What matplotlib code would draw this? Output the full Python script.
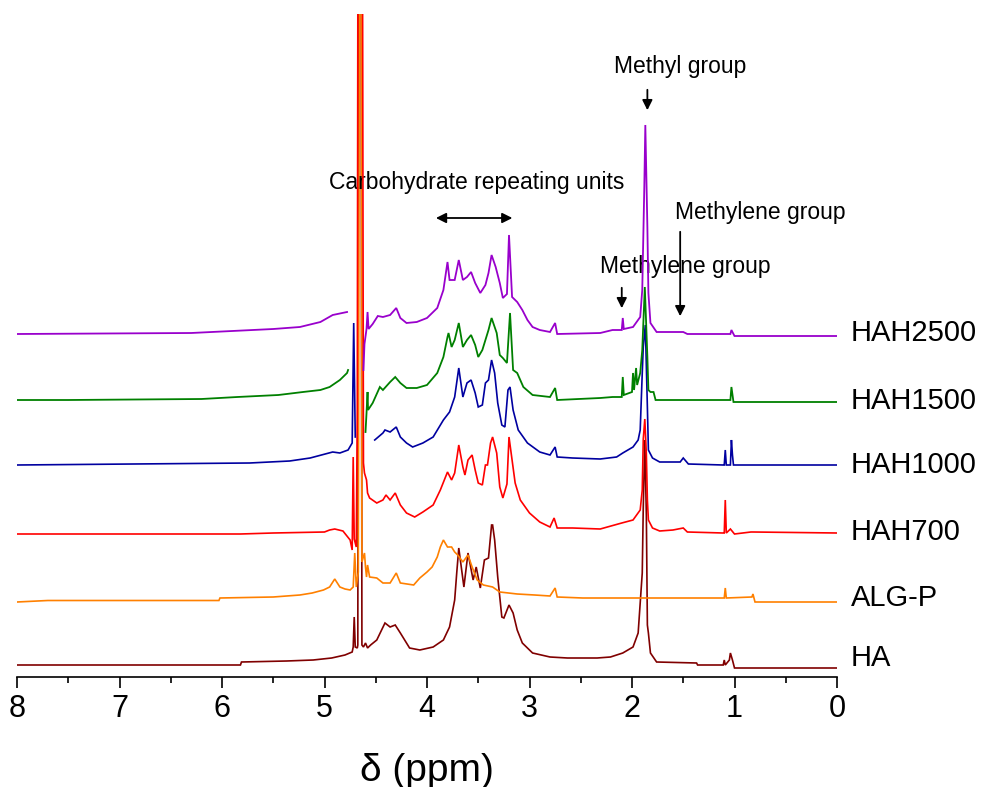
import numpy as np
import matplotlib
matplotlib.use("Agg")
import matplotlib.pyplot as plt

plt.rcParams['font.family'] = ['Liberation Sans', 'DejaVu Sans']

nan = np.nan

# ---------------- data (ppm, intensity a.u. above each trace baseline) ----------------
HA_ppm = [8.0, 5.82, 5.81, 5.37, 5.11, 4.93, 4.80, 4.73, 4.72, 4.71, 4.70, 4.68, 4.675, 4.665, 4.645, 4.635,
          4.62, 4.60, 4.58, 4.55, 4.49, 4.41, 4.36, 4.31, 4.26, 4.17, 4.07, 3.94, 3.84, 3.78, 3.73, 3.71,
          3.69, 3.64, 3.60, 3.55, 3.52, 3.48, 3.44, 3.40, 3.37, 3.36, 3.34, 3.31, 3.27, 3.25, 3.20, 3.16,
          3.12, 3.07, 2.97, 2.80, 2.63, 2.34, 2.21, 2.09, 1.99, 1.94, 1.90, 1.89, 1.875, 1.86, 1.85, 1.84,
          1.82, 1.76, 1.37, 1.36, 1.11, 1.10, 1.09, 1.05, 1.04, 1.02, 1.00, 0.0]
HA_int = [0, 0, 3, 4, 5, 7, 10, 13, 18, 48, 18, 17, 20, 900, 900, 20,
          18, 22, 17, 20, 25, 42, 38, 40, 32, 17, 15, 18, 25, 38, 65, 92,
          117, 78, 112, 85, 98, 77, 105, 107, 140, 140, 125, 88, 48, 47, 60, 52,
          35, 22, 12, 8, 7, 7, 8, 12, 18, 32, 92, 158, 225, 150, 40, 32,
          12, 3, 2, 0, 0, 5, 0, 5, 12, 5, -3, -3]

ALG_ppm = [8.0, 7.7, 6.03, 6.02, 5.50, 5.24, 5.12, 5.01, 4.95, 4.90, 4.85, 4.80, 4.75, 4.72, 4.705, 4.69,
           4.67, 4.655, 4.645, 4.635, 4.61, 4.60, 4.59, 4.58, 4.56, 4.49, 4.43, 4.36, 4.30, 4.26, 4.13,
           4.07, 4.00, 3.95, 3.90, 3.87, 3.84, 3.80, 3.76, 3.73, 3.70, 3.65, 3.60, 3.56, 3.51, 3.45, 3.36,
           3.29, 3.12, 2.95, 2.80, 2.75, 2.73, 2.48, 1.10, 1.09, 1.08, 0.83, 0.82, 0.80, 0.0]
ALG_int = [0, 1.5, 1.5, 4, 5, 7, 9, 12, 15, 23, 15, 13, 12, 15, 49, 15,
           30, 900, 900, 40, 49, 35, 25, 37, 25, 24, 19, 19, 29, 19, 17,
           24, 30, 35, 45, 55, 62, 55, 55, 50, 47, 40, 47, 35, 22, 17, 15,
           10, 8, 7, 6, 14, 5, 4, 4, 14, 4, 5, 8, 0, 0]

H700_ppm = [8.0, 5.82, 5.50, 5.00, 4.95, 4.90, 4.82, 4.75, 4.73, 4.72, 4.71, 4.69, 4.68, 4.67, 4.635,
            4.62, 4.61, 4.59, 4.58, 4.56, 4.49, 4.43, 4.40, 4.36, 4.31, 4.26, 4.20, 4.12, 4.04, 3.94,
            3.87, 3.80, 3.76, 3.73, 3.69, 3.65, 3.63, 3.60, 3.56, 3.53, 3.50, 3.46, 3.43, 3.41, 3.38,
            3.36, 3.32, 3.29, 3.26, 3.22, 3.20, 3.17, 3.14, 3.09, 3.00, 2.90, 2.80, 2.76, 2.73, 2.58,
            2.31, 2.10, 1.99, 1.92, 1.90, 1.89, 1.875, 1.86, 1.85, 1.84, 1.80, 1.73, 1.60, 1.50, 1.46,
            1.11, 1.10, 1.09, 1.08, 1.04, 1.00, 0.84, 0.82, 0.0]
H700_int = [0, 0, 1, 2, 4, 5, 3, -6, -16, 77, -5, -13, 127, 900, 900,
            71, 61, 54, 41, 36, 31, 34, 39, 34, 41, 29, 21, 17, 22, 29,
            44, 62, 54, 61, 89, 67, 59, 74, 79, 64, 51, 49, 69, 69, 91,
            97, 81, 47, 36, 50, 97, 74, 51, 34, 21, 12, 7, 16, 6, 6,
            5, 11, 14, 24, 44, 95, 115, 80, 34, 14, 6, 3, 4, 6, 2,
            1, 1, 34, 1, 5, 0, 2, 2, 1]

H1000_ppm = [8.0, 5.73, 5.34, 5.14, 4.92, 4.85, 4.77, 4.73, 4.715, 4.70, nan,
             4.51, 4.43, 4.41, 4.36, 4.30, 4.26, 4.20, 4.14, 4.04, 3.94, 3.84, 3.78, 3.73, 3.69, 3.65,
             3.61, 3.57, 3.53, 3.50, 3.46, 3.43, 3.40, 3.37, 3.34, 3.31, 3.27, 3.24, 3.21, 3.19, 3.16,
             3.11, 3.02, 2.90, 2.80, 2.75, 2.73, 2.58, 2.31, 2.15, 2.09, 1.99, 1.94, 1.92, 1.90, 1.89,
             1.87, 1.85, 1.84, 1.80, 1.73, 1.53, 1.50, 1.45, 1.11, 1.10, 1.09, 1.08, 1.04, 1.03, 1.02,
             1.01, 0.0]
H1000_int = [0, 2, 4, 7, 13, 12, 15, 22, 142, 28, nan,
             25, 32, 35, 33, 38, 28, 22, 18, 22, 28, 45, 53, 68, 97, 68,
             82, 85, 72, 58, 60, 82, 85, 105, 92, 62, 40, 38, 75, 78, 55,
             35, 22, 13, 10, 18, 8, 7, 6, 8, 12, 18, 25, 35, 92, 118,
             140, 58, 15, 7, 3, 3, 7, 1, 0, 0, 15, 0, 0, 25, 10,
             0, 0]

H1500_ppm = [8.0, 7.5, 6.2, 5.85, 5.45, 5.21, 5.04, 4.95, 4.85, 4.78, 4.77, nan,
             4.60, 4.59, 4.58, 4.575, 4.53, 4.46, 4.43, 4.36, 4.31, 4.26, 4.20, 4.10, 4.00, 3.90, 3.84,
             3.80, 3.79, 3.76, 3.73, 3.69, 3.65, 3.61, 3.57, 3.53, 3.50, 3.46, 3.43, 3.40, 3.37, 3.32,
             3.29, 3.26, 3.22, 3.19, 3.16, 3.12, 3.06, 2.97, 2.80, 2.75, 2.73, 2.31, 2.19, 2.10, 2.09,
             2.08, 2.00, 1.99, 1.98, 1.96, 1.95, 1.92, 1.90, 1.875, 1.85, 1.84, 1.82, 1.79, 1.77, 1.50,
             1.04, 1.03, 1.01, 0.0]
H1500_int = [0, 0, 1, 3, 5, 8, 10, 13, 20, 27, 30, nan,
             -32, -13, 8, -10, -3, 13, 10, 18, 23, 17, 12, 12, 15, 27, 43,
             63, 67, 53, 60, 77, 53, 60, 65, 55, 43, 50, 60, 70, 82, 67,
             45, 42, 37, 87, 30, 27, 13, 5, 3, 12, 0, 2, 3, 3, 23,
             5, 8, 27, 10, 32, 15, 27, 50, 113, 43, 10, 8, 8, 0, 0,
             0, 13, -2, -2]

H2500_ppm = [8.0, 6.3, 5.9, 5.5, 5.24, 5.04, 4.92, 4.78, nan,
             4.62, 4.61, 4.59, 4.58, 4.57, 4.53, 4.48, 4.43, 4.36, 4.30, 4.26, 4.20, 4.10, 4.00, 3.90,
             3.84, 3.80, 3.78, 3.73, 3.69, 3.65, 3.61, 3.57, 3.53, 3.48, 3.43, 3.40, 3.37, 3.33, 3.29,
             3.26, 3.22, 3.20, 3.17, 3.12, 3.07, 3.02, 2.97, 2.90, 2.80, 2.75, 2.73, 2.31, 2.19, 2.10,
             2.09, 2.08, 1.99, 1.92, 1.90, 1.88, 1.87, 1.85, 1.84, 1.82, 1.76, 1.50, 1.46, 1.04, 1.03,
             1.00, 0.0]
H2500_int = [0, 1, 3, 5, 7, 12, 19, 22, nan,
             -36, -10, 5, 22, 5, 10, 18, 17, 19, 26, 16, 11, 12, 16, 26,
             44, 72, 54, 54, 74, 54, 57, 62, 51, 41, 49, 61, 79, 67, 51,
             36, 40, 99, 37, 32, 24, 14, 7, 4, 2, 11, 0, 1, 4, 4,
             16, 5, 7, 17, 44, 147, 209, 107, 41, 11, 2, 2, 0, 0, 4,
             -2, -2]

names = ["HA", "ALG-P", "HAH700", "HAH1000", "HAH1500", "HAH2500"]
ppms = [HA_ppm, ALG_ppm, H700_ppm, H1000_ppm, H1500_ppm, H2500_ppm]
ints = [HA_int, ALG_int, H700_int, H1000_int, H1500_int, H2500_int]

# ---------------- layout / style ----------------
offsets = [12, 75, 143, 212, 277, 343]
label_y = [19, 79, 145, 212, 276, 344]
colors = ["#800000", "#FF8000", "#FF0000", "#0000A0", "#008000", "#9900CC"]
zorders = [2, 3, 4, 5, 6, 7]
widths = [1.2, 1.2, 1.2, 1.2, 1.3, 1.3]

fig = plt.figure(figsize=(9.84, 7.87), dpi=100)
W, H = 984, 787
ax = fig.add_axes([17 / W, (H - 677) / H, (837 - 17) / W, (677 - 14) / H])

for p, v, off, c, z, lw in zip(ppms, ints, offsets, colors, zorders, widths):
    ax.plot(p, np.array(v, dtype=float) + off, color=c, lw=lw, zorder=z, solid_joinstyle='miter')

ax.set_xlim(8, 0)
ax.set_ylim(0, 663)

for s in ['left', 'right', 'top']:
    ax.spines[s].set_visible(False)
ax.spines['bottom'].set_linewidth(1.2)
ax.set_yticks([])
ax.set_xticks(np.arange(0, 9, 1))
ax.set_xticks(np.arange(0.5, 8, 1), minor=True)
ax.tick_params(axis='x', which='major', direction='out', length=8, width=1.2, labelsize=22, pad=4)
ax.tick_params(axis='x', which='minor', direction='out', length=4.5, width=1.2)
ax.set_xlabel("\u03b4 (ppm)", fontsize=28, labelpad=21)

for name, y in zip(names, label_y):
    ax.text(-0.135, y, name, fontsize=21, va='center', ha='left', clip_on=False)

# annotations
afs = 16.5
ax.text(1.53, 611, "Methyl group", fontsize=afs, ha='center', va='center')
ax.annotate('', xy=(1.85, 564), xytext=(1.85, 590),
            arrowprops=dict(arrowstyle='-|>', color='black', lw=1.3, mutation_scale=15))
ax.text(3.52, 495, "Carbohydrate repeating units", fontsize=afs, ha='center', va='center')
ax.annotate('', xy=(3.14, 459), xytext=(3.94, 459),
            arrowprops=dict(arrowstyle='<|-|>', color='black', lw=1.3, mutation_scale=15))
ax.text(0.75, 464, "Methylene group", fontsize=afs, ha='center', va='center')
ax.annotate('', xy=(1.53, 358), xytext=(1.53, 448),
            arrowprops=dict(arrowstyle='-|>', color='black', lw=1.3, mutation_scale=15))
ax.text(1.48, 411, "Methylene group", fontsize=afs, ha='center', va='center')
ax.annotate('', xy=(2.10, 366), xytext=(2.10, 392),
            arrowprops=dict(arrowstyle='-|>', color='black', lw=1.3, mutation_scale=15))

fig.savefig("out.png", dpi=100)
